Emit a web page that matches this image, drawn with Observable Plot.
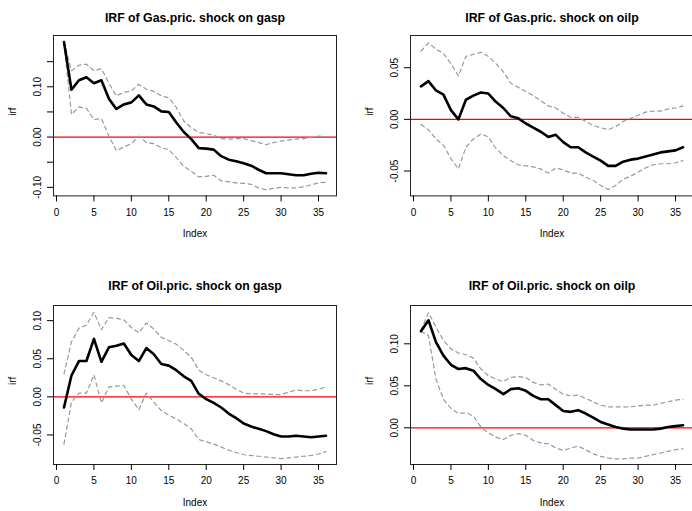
<!DOCTYPE html>
<html>
<head>
<meta charset="utf-8">
<script src="https://cdn.jsdelivr.net/npm/d3@7"></script>
<script src="https://cdn.jsdelivr.net/npm/@observablehq/plot@0.6"></script>
<style>
  body { margin: 0; background: #ffffff; }
  #chart { position: relative; width: 692px; height: 511px; overflow: hidden; background: #ffffff; }
  #chart svg { position: absolute; }
</style>
</head>
<body>
<div id="chart"></div>
<script>
// ---------- data ----------
const horizon = [1,2,3,4,5,6,7,8,9,10,11,12,13,14,15,16,17,18,19,20,21,22,23,24,25,26,27,28,29,30,31,32,33,34,35,36];
const xTicks = [0, 5, 10, 15, 20, 25, 30, 35];
const xTickLabels = ["0", "5", "10", "15", "20", "25", "30", "35"];

const titles = [
  "IRF of Gas.pric. shock on gasp",
  "IRF of Gas.pric. shock on oilp",
  "IRF of Oil.pric. shock on gasp",
  "IRF of Oil.pric. shock on oilp"
];

// Gas price shock -> gasp
const gasOnGasp = [0.189, 0.094, 0.113, 0.119, 0.107, 0.113, 0.076, 0.056, 0.065, 0.069, 0.083, 0.065, 0.061, 0.051, 0.050, 0.029, 0.010, -0.004, -0.022, -0.023, -0.025, -0.038, -0.045, -0.048, -0.052, -0.057, -0.065, -0.072, -0.072, -0.072, -0.074, -0.076, -0.076, -0.073, -0.071, -0.072];
const gasOnGaspUpper = [0.190, 0.132, 0.143, 0.145, 0.132, 0.136, 0.107, 0.082, 0.089, 0.092, 0.105, 0.095, 0.091, 0.082, 0.078, 0.059, 0.032, 0.019, 0.009, 0.007, 0.004, -0.003, -0.004, -0.003, -0.003, -0.007, -0.011, -0.015, -0.011, -0.008, -0.006, -0.004, -0.003, -0.001, 0.002, 0.001];
const gasOnGaspLower = [0.188, 0.045, 0.060, 0.057, 0.035, 0.037, 0.002, -0.027, -0.020, -0.013, 0.002, -0.011, -0.013, -0.021, -0.025, -0.041, -0.058, -0.068, -0.079, -0.078, -0.076, -0.087, -0.089, -0.091, -0.092, -0.094, -0.101, -0.105, -0.102, -0.100, -0.101, -0.101, -0.099, -0.095, -0.091, -0.090];

// Gas price shock -> oilp
const gasOnOilp = [0.032, 0.037, 0.028, 0.024, 0.009, 0.000, 0.019, 0.023, 0.026, 0.025, 0.017, 0.011, 0.003, 0.001, -0.004, -0.008, -0.012, -0.017, -0.015, -0.022, -0.027, -0.027, -0.032, -0.036, -0.040, -0.045, -0.045, -0.041, -0.039, -0.038, -0.036, -0.034, -0.032, -0.031, -0.030, -0.027];
const gasOnOilpUpper = [0.066, 0.074, 0.068, 0.064, 0.054, 0.042, 0.061, 0.063, 0.065, 0.061, 0.054, 0.046, 0.035, 0.031, 0.027, 0.023, 0.018, 0.013, 0.011, 0.006, 0.002, 0.002, -0.002, -0.006, -0.008, -0.010, -0.007, -0.002, 0.001, 0.004, 0.007, 0.008, 0.008, 0.010, 0.011, 0.013];
const gasOnOilpLower = [-0.005, -0.010, -0.019, -0.025, -0.038, -0.048, -0.027, -0.019, -0.014, -0.017, -0.028, -0.035, -0.040, -0.044, -0.045, -0.046, -0.048, -0.052, -0.047, -0.049, -0.052, -0.052, -0.056, -0.059, -0.064, -0.068, -0.064, -0.058, -0.055, -0.051, -0.047, -0.044, -0.043, -0.043, -0.042, -0.040];

// Oil price shock -> gasp
const oilOnGasp = [-0.014, 0.028, 0.047, 0.047, 0.076, 0.046, 0.065, 0.067, 0.070, 0.055, 0.047, 0.064, 0.056, 0.043, 0.041, 0.035, 0.027, 0.021, 0.004, -0.003, -0.008, -0.014, -0.022, -0.028, -0.035, -0.039, -0.042, -0.045, -0.049, -0.052, -0.052, -0.051, -0.052, -0.053, -0.052, -0.051];
const oilOnGaspUpper = [0.030, 0.072, 0.090, 0.094, 0.111, 0.088, 0.104, 0.103, 0.101, 0.091, 0.084, 0.097, 0.089, 0.078, 0.074, 0.069, 0.061, 0.052, 0.035, 0.029, 0.025, 0.021, 0.016, 0.010, 0.005, 0.004, 0.004, 0.004, 0.003, 0.003, 0.006, 0.009, 0.008, 0.008, 0.010, 0.013];
const oilOnGaspLower = [-0.062, -0.007, 0.005, 0.005, 0.029, -0.008, 0.013, 0.014, 0.015, -0.003, -0.017, 0.005, -0.007, -0.018, -0.024, -0.029, -0.035, -0.042, -0.056, -0.059, -0.062, -0.066, -0.070, -0.073, -0.076, -0.077, -0.078, -0.079, -0.080, -0.081, -0.080, -0.079, -0.078, -0.077, -0.075, -0.072];

// Oil price shock -> oilp
const oilOnOilp = [0.115, 0.128, 0.102, 0.086, 0.075, 0.070, 0.071, 0.068, 0.058, 0.051, 0.046, 0.040, 0.046, 0.047, 0.044, 0.038, 0.034, 0.034, 0.027, 0.020, 0.019, 0.021, 0.017, 0.012, 0.007, 0.004, 0.001, -0.001, -0.002, -0.002, -0.002, -0.002, -0.001, 0.001, 0.002, 0.003];
const oilOnOilpUpper = [0.116, 0.137, 0.120, 0.104, 0.094, 0.089, 0.087, 0.083, 0.070, 0.062, 0.058, 0.055, 0.060, 0.061, 0.060, 0.054, 0.051, 0.052, 0.046, 0.040, 0.038, 0.039, 0.035, 0.031, 0.027, 0.025, 0.025, 0.025, 0.025, 0.026, 0.027, 0.027, 0.029, 0.031, 0.033, 0.034];
const oilOnOilpLower = [0.115, 0.110, 0.058, 0.034, 0.023, 0.017, 0.018, 0.014, 0.001, -0.006, -0.011, -0.014, -0.009, -0.007, -0.009, -0.015, -0.018, -0.019, -0.024, -0.027, -0.024, -0.022, -0.026, -0.031, -0.034, -0.036, -0.037, -0.037, -0.036, -0.036, -0.034, -0.032, -0.030, -0.028, -0.026, -0.025];

// y tick values and labels for each panel
const yTicks1 = [-0.10, -0.05, 0.00, 0.05, 0.10, 0.15];
const yTickLabels1 = ["-0.10", "", "0.00", "", "0.10", ""];
const yTicks2 = [-0.05, 0.00, 0.05];
const yTickLabels2 = ["-0.05", "0.00", "0.05"];
const yTicks3 = [-0.05, 0.00, 0.05, 0.10];
const yTickLabels3 = ["-0.05", "0.00", "0.05", "0.10"];
const yTicks4 = [0.00, 0.05, 0.10];
const yTickLabels4 = ["0.00", "0.05", "0.10"];

// ---------- panels ----------
const panels = [
  { title: titles[0], irf: gasOnGasp, upper: gasOnGaspUpper, lower: gasOnGaspLower, yTicks: yTicks1, yTickLabels: yTickLabels1 },
  { title: titles[1], irf: gasOnOilp, upper: gasOnOilpUpper, lower: gasOnOilpLower, yTicks: yTicks2, yTickLabels: yTickLabels2 },
  { title: titles[2], irf: oilOnGasp, upper: oilOnGaspUpper, lower: oilOnGaspLower, yTicks: yTicks3, yTickLabels: yTickLabels3 },
  { title: titles[3], irf: oilOnOilp, upper: oilOnOilpUpper, lower: oilOnOilpLower, yTicks: yTicks4, yTickLabels: yTickLabels4 }
];

// layout (positions / sizes / scale ranges)
const layout = [
  { left: -10.3, top: 0.3,   plotH: 160.4, titleDy: -21.8, yDomain: [-0.117, 0.202] },
  { left: 347.3, top: 0.3,   plotH: 160.4, titleDy: -21.8, yDomain: [-0.0741, 0.0812] },
  { left: -10.3, top: 269.7, plotH: 159,   titleDy: -24.0, yDomain: [-0.0888, 0.1199] },
  { left: 347.3, top: 269.7, plotH: 159,   titleDy: -24.0, yDomain: [-0.0437, 0.1456] }
];

const FONT = '"Liberation Sans", Arial, Helvetica, sans-serif';
const chart = document.getElementById("chart");
const xLabelMap = new Map(xTicks.map((t, i) => [t, xTickLabels[i]]));

panels.forEach((p, k) => {
  const L = layout[k];
  const rows = horizon.map((h, i) => ({ h, irf: p.irf[i], upper: p.upper[i], lower: p.lower[i] }));
  const yLabelMap = new Map(p.yTicks.map((t, i) => [t, p.yTickLabels[i]]));
  const marginTop = 35, marginBottom = 60;
  const svg = Plot.plot({
    width: 357,
    height: marginTop + L.plotH + marginBottom,
    marginLeft: 63,
    marginRight: 11,
    marginTop,
    marginBottom,
    style: { background: "transparent", fontFamily: FONT, color: "#000", overflow: "visible" },
    x: { domain: [-0.4, 37.4], label: null },
    y: { domain: L.yDomain, label: null },
    marks: [
      Plot.ruleY([0], { stroke: "#ff0000", strokeWidth: 1.3 }),
      Plot.line(rows, { x: "h", y: "upper", stroke: "#999999", strokeWidth: 1.2, strokeDasharray: "4,3.5" }),
      Plot.line(rows, { x: "h", y: "lower", stroke: "#999999", strokeWidth: 1.2, strokeDasharray: "4,3.5" }),
      Plot.line(rows, { x: "h", y: "irf", stroke: "#000", strokeWidth: 2.6 }),
      Plot.frame({ stroke: "#222", strokeWidth: 1 }),
      Plot.axisX(xTicks, { tickSize: 6, tickPadding: 6.5, fontSize: 10, tickFormat: d => xLabelMap.get(d), label: null }),
      Plot.axisY(p.yTicks, { tickSize: 6, tickPadding: 10, tickRotate: -90, textAnchor: "middle", lineAnchor: "middle", fontSize: 10, tickFormat: d => yLabelMap.get(d), label: null }),
      Plot.text(["irf"], { text: d => d, frameAnchor: "left", dx: -41, rotate: -90, fontSize: 10 }),
      Plot.text(["Index"], { text: d => d, frameAnchor: "bottom", dy: 41, fontSize: 10 }),
      Plot.text([p.title], { text: d => d, frameAnchor: "top", dy: L.titleDy, fontSize: 12.3, fontWeight: "bold" })
    ]
  });
  svg.style.left = L.left + "px";
  svg.style.top = L.top + "px";
  chart.appendChild(svg);
});
</script>
</body>
</html>
